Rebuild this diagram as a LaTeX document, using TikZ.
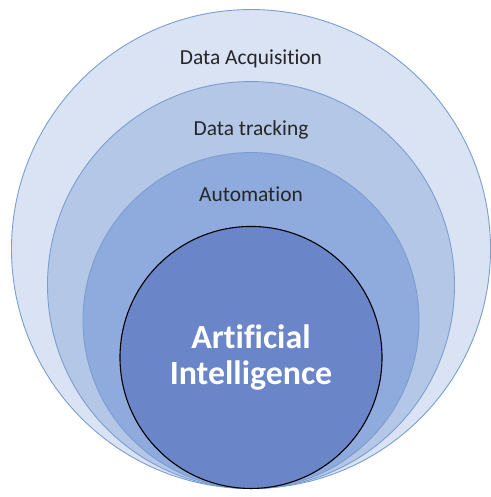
\documentclass[tikz,border=0pt]{standalone}
\usepackage{fontspec}
\setmainfont{Carlito}[Ligatures={NoCommon}]
\usepackage{xcolor}
\usetikzlibrary{positioning}

\definecolor{ringA}{HTML}{DAE3F3}
\definecolor{ringB}{HTML}{B4C7E7}
\definecolor{ringC}{HTML}{8FAADC}
\definecolor{core}{HTML}{6A86C8}
\definecolor{rim}{HTML}{7A9ED0}

\tikzset{
  ring/.style={circle, draw=rim, line width=0.9bp, inner sep=0pt, anchor=south},
  lbl/.style={anchor=base, inner sep=0pt, text=black!85, font=\fontsize{21.5}{26}\selectfont}
}

\begin{document}
\begin{tikzpicture}[x=1bp, y=-1bp]
\useasboundingbox (0,0) rectangle (491,497);

\coordinate (base) at (251,489);

\node (acqring) [ring, fill=ringA, minimum size=479bp] at (base) {};
\node (trackring) [ring, fill=ringB, minimum size=407bp] at (base) {};
\node (autoring) [ring, fill=ringC, minimum size=336bp] at (base) {};
\node (ai) [ring, draw=black, line width=1.1bp, fill=core, minimum size=262bp] at (base) {};

\node (acq) [lbl] at ([yshift=-55bp]acqring.north) {Data Acquisition};
\node (track) [lbl] at ([yshift=-54bp]trackring.north) {Data tracking};
\node (auto) [lbl] at ([yshift=-49bp]autoring.north) {Automation};

\node (aitext) [align=center, text=white, font=\fontsize{34}{36}\selectfont\bfseries] at (ai.center) {Artificial\\Intelligence};
\end{tikzpicture}
\end{document}
